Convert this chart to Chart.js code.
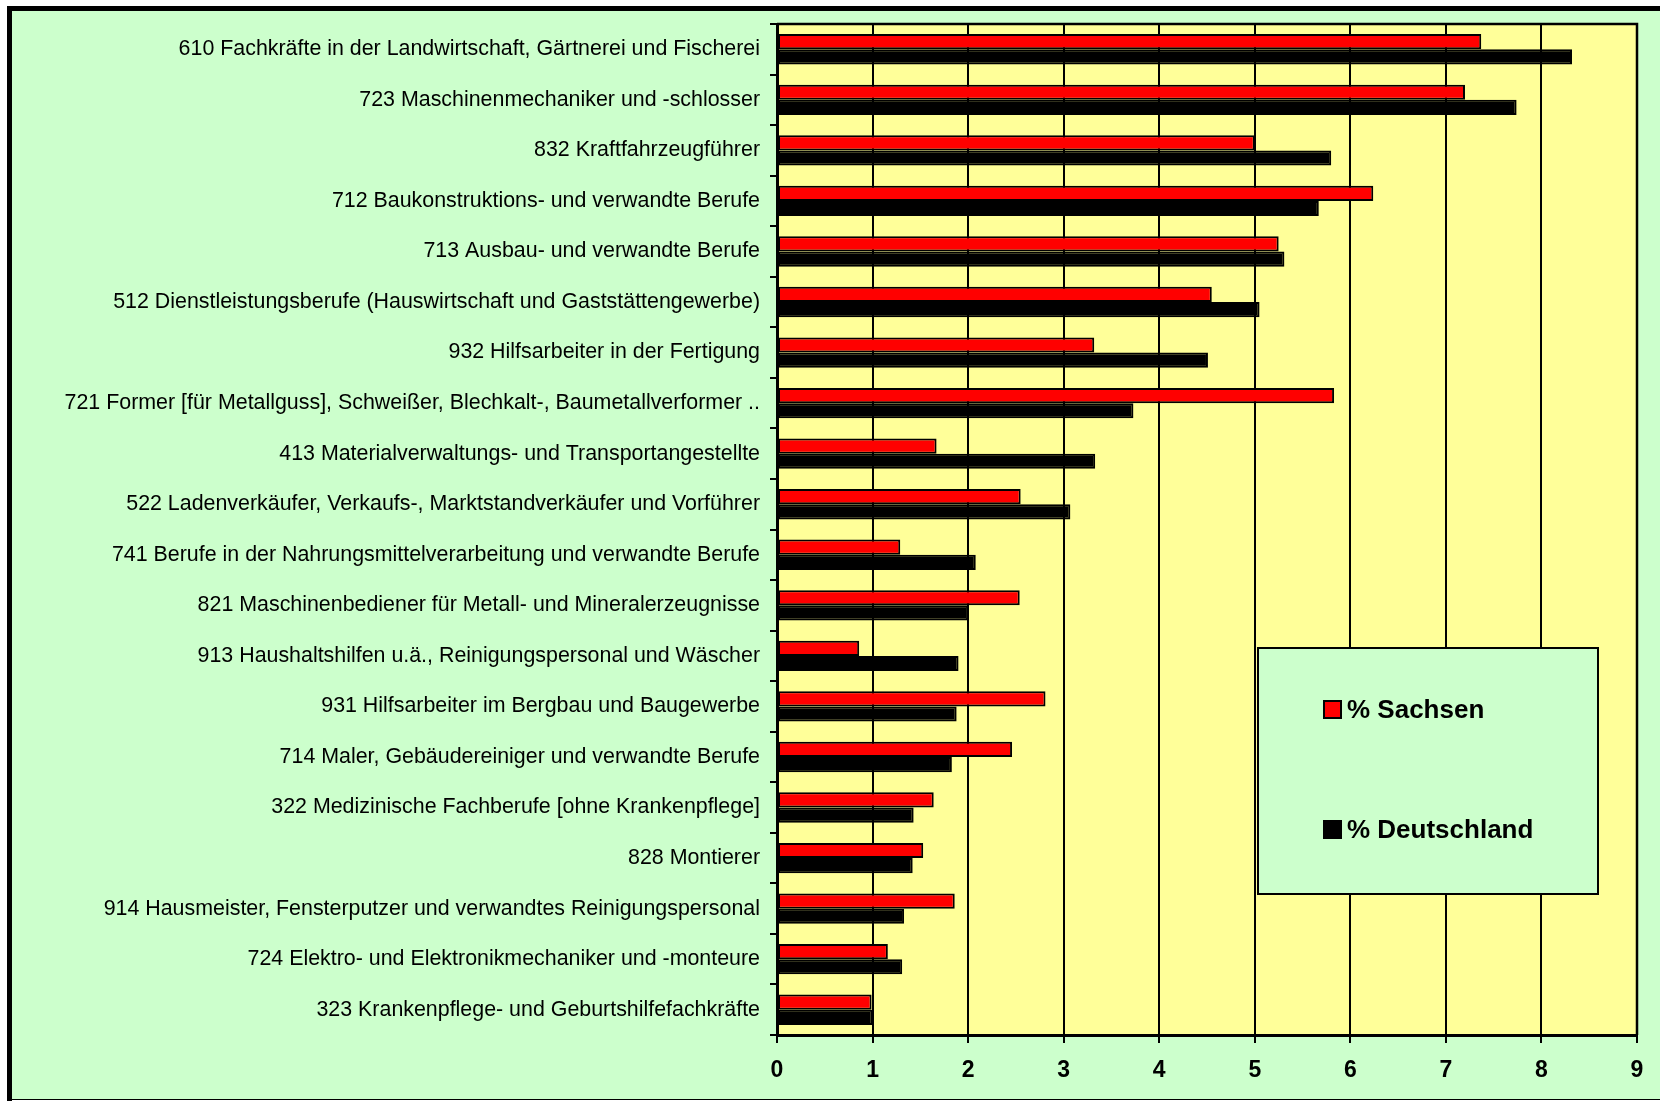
<!DOCTYPE html>
<html>
<head>
<meta charset="utf-8">
<script src="https://cdn.jsdelivr.net/npm/chart.js@4.4.1/dist/chart.umd.min.js"></script>
<style>
    html, body { margin: 0; padding: 0; background: #ffffff; }
    #wrap { width: 1660px; height: 1101px; position: relative; }
</style>
</head>
<body>
<div id="wrap"><canvas id="myChart" width="1660" height="1101"></canvas></div>
<script>
// Berufsgruppen (von oben nach unten)
const categories = [
    '610 Fachkräfte in der Landwirtschaft, Gärtnerei und Fischerei',
    '723 Maschinenmechaniker und -schlosser',
    '832 Kraftfahrzeugführer',
    '712 Baukonstruktions- und verwandte Berufe',
    '713 Ausbau- und verwandte Berufe',
    '512 Dienstleistungsberufe (Hauswirtschaft und Gaststättengewerbe)',
    '932 Hilfsarbeiter in der Fertigung',
    '721 Former [für Metallguss], Schweißer, Blechkalt-, Baumetallverformer ..',
    '413 Materialverwaltungs- und Transportangestellte',
    '522 Ladenverkäufer, Verkaufs-, Marktstandverkäufer und Vorführer',
    '741 Berufe in der Nahrungsmittelverarbeitung und verwandte Berufe',
    '821 Maschinenbediener für Metall- und Mineralerzeugnisse',
    '913 Haushaltshilfen u.ä., Reinigungspersonal und Wäscher',
    '931 Hilfsarbeiter im Bergbau und Baugewerbe',
    '714 Maler, Gebäudereiniger und verwandte Berufe',
    '322 Medizinische Fachberufe [ohne Krankenpflege]',
    '828 Montierer',
    '914 Hausmeister, Fensterputzer und verwandtes Reinigungspersonal',
    '724 Elektro- und Elektronikmechaniker und -monteure',
    '323 Krankenpflege- und Geburtshilfefachkräfte'
];
const sachsen = [7.37, 7.20, 5.00, 6.24, 5.25, 4.55, 3.32, 5.83, 1.67, 2.55,
                 1.29, 2.54, 0.86, 2.81, 2.46, 1.64, 1.53, 1.86, 1.16, 0.99];
const deutschland = [8.32, 7.74, 5.80, 5.67, 5.31, 5.05, 4.51, 3.73, 3.33, 3.07,
                     2.08, 2.00, 1.90, 1.88, 1.83, 1.43, 1.42, 1.33, 1.31, 1.00];
const seriesNames = ['% Sachsen', '% Deutschland'];
const xMin = 0;
const xMax = 9;

const FONT = '"Liberation Sans", Arial, sans-serif';

// Hintergrund, Rahmen, Plotfläche
const backgrounds = {
    id: 'backgrounds',
    beforeDraw(chart) {
        const c = chart.ctx;
        const a = chart.chartArea;
        c.save();
        c.fillStyle = '#ccffcc';
        c.fillRect(7, 6, chart.width - 7, chart.height - 7);
        c.fillStyle = '#000000';
        c.fillRect(7, 6, chart.width - 7, 5);
        c.fillRect(7, 6, 5, chart.height - 6);
        c.fillRect(7, chart.height - 2, chart.width - 7, 1);
        c.fillStyle = '#ffff99';
        c.fillRect(a.left, a.top, a.right - a.left, a.bottom - a.top);
        c.restore();
    },
    afterDraw(chart) {
        const c = chart.ctx;
        const a = chart.chartArea;
        c.save();
        c.strokeStyle = '#000000';
        c.lineWidth = 2.5;
        c.beginPath();
        c.moveTo(a.left, a.top);
        c.lineTo(a.right, a.top);
        c.lineTo(a.right, a.bottom);
        c.stroke();
        c.restore();
    }
};

// Legende als Kasten in der Plotfläche
const boxLegend = {
    id: 'boxLegend',
    afterDatasetsDraw(chart) {
        const c = chart.ctx;
        const a = chart.chartArea;
        const x0 = a.right - 379, y0 = a.top + 624, w = 340, h = 246;
        c.save();
        c.fillStyle = '#ccffcc';
        c.fillRect(x0, y0, w, h);
        c.strokeStyle = '#000000';
        c.lineWidth = 2;
        c.strokeRect(x0, y0, w, h);
        c.font = 'bold 26px ' + FONT;
        c.textBaseline = 'middle';
        c.textAlign = 'left';
        chart.data.datasets.forEach((ds, i) => {
            const cy = y0 + 62 + i * 120;
            c.fillStyle = ds.backgroundColor;
            c.fillRect(x0 + 66, cy - 9, 17, 17);
            c.lineWidth = 2;
            c.strokeStyle = '#000000';
            c.strokeRect(x0 + 66, cy - 9, 17, 17);
            c.fillStyle = '#000000';
            c.fillText(ds.label, x0 + 89, cy + 1);
        });
        c.restore();
    }
};

const ctx = document.getElementById('myChart').getContext('2d');
const chart = new Chart(ctx, {
    type: 'bar',
    data: {
        labels: categories,
        datasets: [{
            label: seriesNames[0],
            data: sachsen,
            backgroundColor: '#ff0000',
            borderColor: '#000000',
            borderWidth: 2,
            borderSkipped: false
        }, {
            label: seriesNames[1],
            data: deutschland,
            backgroundColor: '#000000',
            borderColor: '#000000',
            borderWidth: 2,
            borderSkipped: false
        }]
    },
    options: {
        indexAxis: 'y',
        responsive: false,
        animation: false,
        devicePixelRatio: 1,
        layout: { padding: { left: 0, right: 23, top: 24, bottom: 0 } },
        datasets: {
            bar: { categoryPercentage: 0.6, barPercentage: 1.0 }
        },
        scales: {
            x: {
                min: xMin,
                max: xMax,
                afterFit: (scale) => { scale.height = 66; },
                ticks: {
                    stepSize: 1,
                    color: '#000000',
                    padding: 14,
                    font: { family: FONT, size: 23, weight: 'bold' }
                },
                grid: {
                    color: '#000000',
                    lineWidth: 2,
                    tickLength: 8
                },
                border: { color: '#000000', width: 3 }
            },
            y: {
                afterFit: (scale) => { scale.width = 777; },
                ticks: {
                    color: '#000000',
                    padding: 10,
                    autoSkip: false,
                    font: { family: FONT, size: 21.4 }
                },
                grid: {
                    drawOnChartArea: false,
                    color: '#000000',
                    lineWidth: 2,
                    tickLength: 7
                },
                border: { color: '#000000', width: 3 }
            }
        },
        plugins: {
            legend: { display: false },
            tooltip: { enabled: false }
        }
    },
    plugins: [backgrounds, boxLegend]
});
</script>
</body>
</html>
